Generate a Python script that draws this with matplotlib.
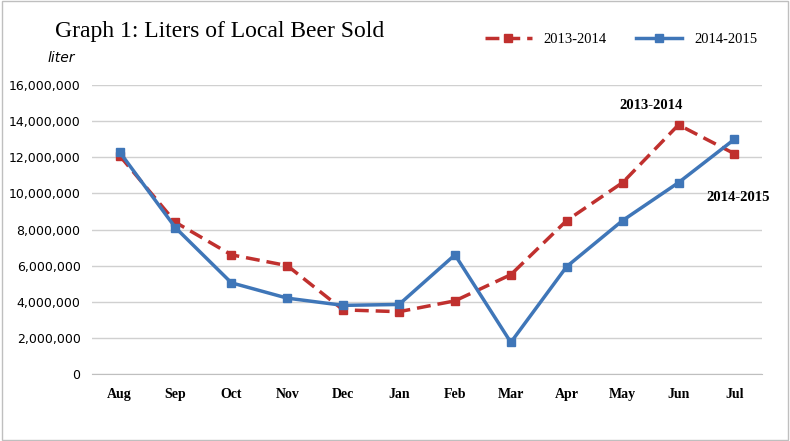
import matplotlib
matplotlib.use("Agg")
import matplotlib.pyplot as plt
from matplotlib.ticker import FuncFormatter

months = ["Aug", "Sep", "Oct", "Nov", "Dec", "Jan", "Feb", "Mar", "Apr", "May", "Jun", "Jul"]
sold_2013_2014 = [12100000, 8400000, 6600000, 6000000, 3550000, 3450000, 4050000, 5500000, 8500000, 10600000, 13800000, 12200000]
sold_2014_2015 = [12300000, 8100000, 5050000, 4200000, 3800000, 3850000, 6600000, 1750000, 5950000, 8500000, 10600000, 13000000]

serif = "Liberation Serif"

fig = plt.figure(figsize=(7.9, 4.41), dpi=100)
ax = fig.add_axes([0.116, 0.152, 0.849, 0.655])

x = range(len(months))
ax.plot(x, sold_2013_2014, color="#C0302E", lw=2.5, ls=(0, (4, 2)), marker="s", ms=6, label="2013-2014")
ax.plot(x, sold_2014_2015, color="#3F76B8", lw=2.5, marker="s", ms=6, label="2014-2015")

ax.set_ylim(0, 16000000)
ax.set_xlim(-0.5, 11.5)
ax.set_yticks(range(0, 16000001, 2000000))
ax.yaxis.set_major_formatter(FuncFormatter(lambda v, p: f"{int(v):,}"))
ax.set_xticks(list(x))
ax.set_xticklabels(months, fontfamily=serif, fontweight="bold", fontsize=10)
ax.tick_params(axis="y", labelsize=9, length=0, pad=8)
ax.tick_params(axis="x", length=0, pad=10)
ax.grid(axis="y", color="#D0D0D0", lw=1)
ax.set_axisbelow(True)
for s in ["top", "right", "left"]:
    ax.spines[s].set_visible(False)
ax.spines["bottom"].set_color("#BFBFBF")

fig.text(0.07, 0.915, "Graph 1: Liters of Local Beer Sold", fontfamily=serif, fontsize=17)
fig.text(0.06, 0.86, "liter", fontsize=10, style="italic")
ax.text(9.5, 14700000, "2013-2014", ha="center", fontfamily=serif, fontweight="bold", fontsize=10.5)
ax.text(10.5, 9600000, "2014-2015", fontfamily=serif, fontweight="bold", fontsize=10.5)

fig.legend(loc="upper right", bbox_to_anchor=(0.975, 0.955), ncol=2, frameon=False,
           prop={"family": serif, "size": 10.5}, handlelength=3.2, columnspacing=2)

fig.patches.append(plt.Rectangle((0.003, 0.003), 0.994, 0.994, transform=fig.transFigure,
                                 fill=False, edgecolor="#BFBFBF", lw=1))
fig.savefig("out.png", dpi=100)
